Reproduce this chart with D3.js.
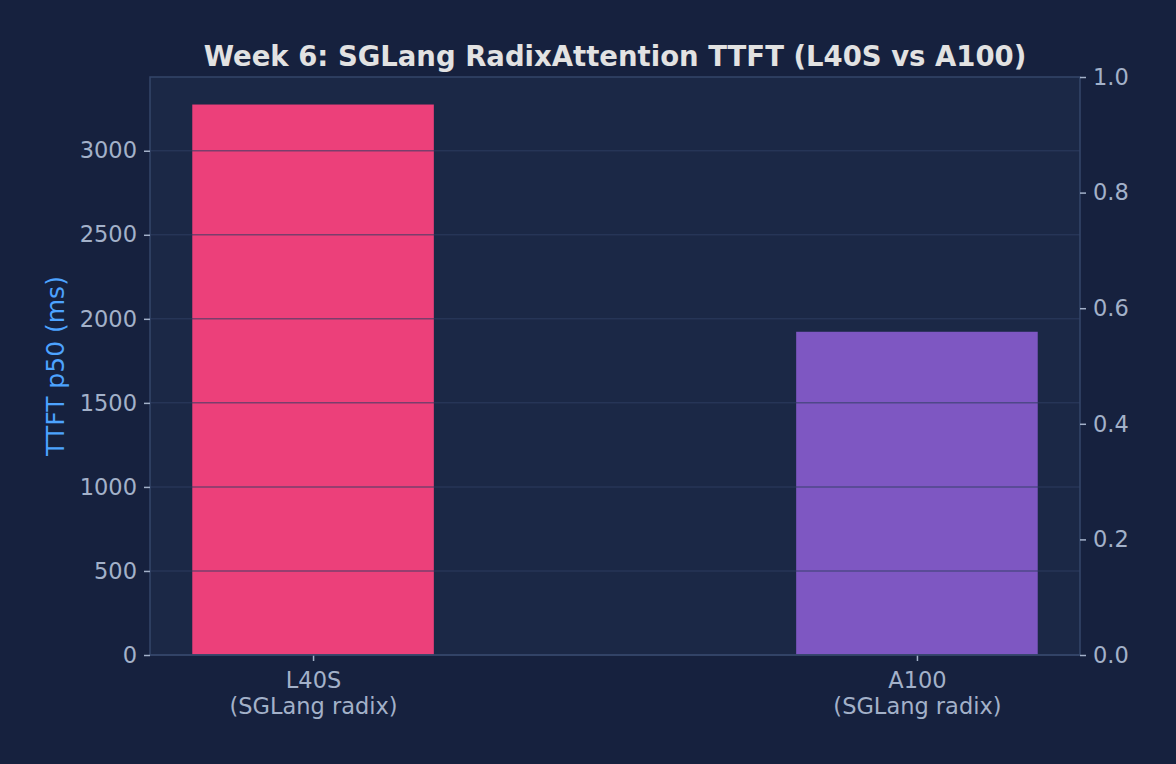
<!DOCTYPE html>
<html>
<head>
<meta charset="utf-8">
<script src="https://cdn.jsdelivr.net/npm/d3@7"></script>
<style>
  body { margin: 0; background: #16213e; }
  svg { display: block; font-family: "DejaVu Sans", sans-serif; }
</style>
</head>
<body>
<div id="chart"></div>
<script>
var categories = ["L40S\n(SGLang radix)", "A100\n(SGLang radix)"];
var ttftP50 = [3275, 1923];
var barColors = ["#ec407a", "#7e57c2"];
var leftTicks = [0, 500, 1000, 1500, 2000, 2500, 3000];
var rightTicks = [0.0, 0.2, 0.4, 0.6, 0.8, 1.0];

var width = 1176, height = 764;
var margin = { top: 77, right: 96, bottom: 109, left: 150 };
var innerW = width - margin.left - margin.right,
    innerH = height - margin.top - margin.bottom;

var svg = d3.select("#chart").append("svg")
    .attr("width", width)
    .attr("height", height);

svg.append("rect").attr("width", width).attr("height", height).attr("fill", "#16213e");

var g = svg.append("g").attr("transform", "translate(" + margin.left + "," + margin.top + ")");

// x is linear over category index, like matplotlib
var x = d3.scaleLinear().domain([-0.27, 1.27]).range([0, innerW]);
var y = d3.scaleLinear().domain([0, d3.max(ttftP50) * 1.05]).range([innerH, 0]);
var y2 = d3.scaleLinear().domain([0, 1]).range([innerH, 0]);
var barW = 0.4;

g.append("rect").attr("width", innerW).attr("height", innerH).attr("fill", "#1b2846");

g.selectAll(".bar")
    .data(ttftP50)
    .enter().append("rect")
    .attr("class", "bar")
    .attr("x", function (d, i) { return x(i - barW / 2); })
    .attr("width", x(barW) - x(0))
    .attr("y", function (d) { return y(d); })
    .attr("height", function (d) { return innerH - y(d); })
    .attr("fill", function (d, i) { return barColors[i]; });

// grid on top of the bars
g.selectAll(".grid")
    .data(leftTicks.filter(function (t) { return t > 0; }))
    .enter().append("line")
    .attr("x1", 0).attr("x2", innerW)
    .attr("y1", function (d) { return y(d); })
    .attr("y2", function (d) { return y(d); })
    .attr("stroke", "#2e3d63")
    .attr("stroke-opacity", 0.6)
    .attr("stroke-width", 1.5);

// frame
g.append("rect").attr("width", innerW).attr("height", innerH)
    .attr("fill", "none").attr("stroke", "#34466a").attr("stroke-width", 1.5);

var tickColor = "#a3b1c9";
var tickFont = "22.5px";

function styleAxis(sel) {
    sel.attr("font-family", null).attr("font-size", null);
    sel.select(".domain").remove();
    sel.selectAll(".tick line").attr("stroke", tickColor).attr("stroke-width", 1.5);
    sel.selectAll(".tick text").attr("fill", tickColor).style("font-size", tickFont);
}

g.append("g")
    .call(d3.axisLeft(y).tickValues(leftTicks).tickSize(6).tickPadding(7).tickFormat(d3.format("d")))
    .call(styleAxis);

g.append("g")
    .attr("transform", "translate(" + innerW + ",0)")
    .call(d3.axisRight(y2).tickValues(rightTicks).tickSize(6).tickPadding(7).tickFormat(d3.format(".1f")))
    .call(styleAxis);

var xAxis = g.append("g")
    .attr("transform", "translate(0," + innerH + ")")
    .call(d3.axisBottom(x).tickValues([0, 1]).tickSize(6).tickFormat(""))
    .call(styleAxis);

xAxis.selectAll(".tick").each(function (d) {
    var lines = categories[d].split("\n");
    var t = d3.select(this).append("text")
        .attr("fill", tickColor)
        .attr("text-anchor", "middle")
        .style("font-size", tickFont)
        .attr("y", 33);
    lines.forEach(function (l, i) {
        t.append("tspan").attr("x", 0).attr("dy", i === 0 ? 0 : "1.17em").text(l);
    });
});

// bottom spine drawn over bars
g.append("line").attr("x1", 0).attr("x2", innerW).attr("y1", innerH).attr("y2", innerH)
    .attr("stroke", "#34466a").attr("stroke-width", 1.5);

svg.append("text")
    .attr("x", margin.left + innerW / 2)
    .attr("y", 66)
    .attr("text-anchor", "middle")
    .attr("fill", "#e2e2e2")
    .style("font-size", "27.5px")
    .style("font-weight", "bold")
    .text("Week 6: SGLang RadixAttention TTFT (L40S vs A100)");

svg.append("text")
    .attr("transform", "translate(64," + (margin.top + innerH / 2) + ") rotate(-90)")
    .attr("text-anchor", "middle")
    .attr("fill", "#4da3ff")
    .style("font-size", "25px")
    .text("TTFT p50 (ms)");
</script>
</body>
</html>
